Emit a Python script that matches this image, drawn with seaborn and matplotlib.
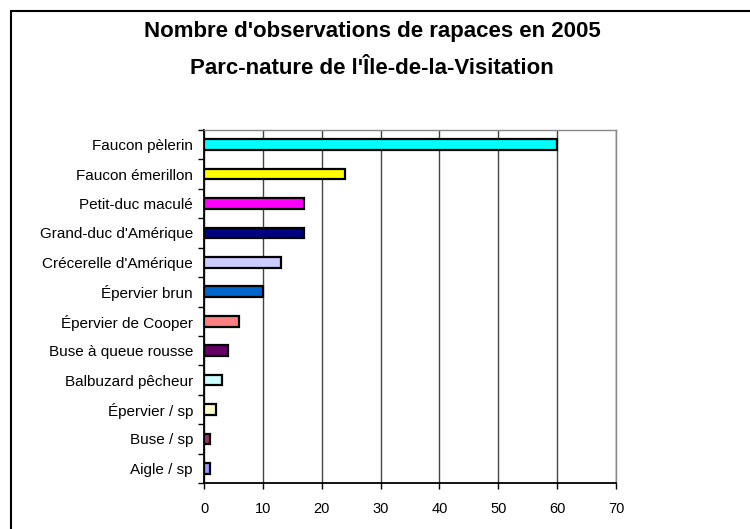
import matplotlib
matplotlib.use("Agg")
import matplotlib.pyplot as plt
from matplotlib.patches import Rectangle
from matplotlib.ticker import FixedLocator
import seaborn as sns
import pandas as pd

categories = ["Faucon pèlerin", "Faucon émerillon", "Petit-duc maculé", "Grand-duc d'Amérique",
              "Crécerelle d'Amérique", "Épervier brun", "Épervier de Cooper", "Buse à queue rousse",
              "Balbuzard pêcheur", "Épervier / sp", "Buse / sp", "Aigle / sp"]
values = [60, 24, 17, 17, 13, 10, 6, 4, 3, 2, 1, 1]
colors = ["#00FFFF", "#FFFF00", "#FF00FF", "#000080", "#CCCCFF", "#0066CC",
          "#FF8080", "#660066", "#CCFFFF", "#FFFFCC", "#993366", "#9999FF"]
xticks = [0, 10, 20, 30, 40, 50, 60, 70]
title = "Nombre d'observations de rapaces en 2005\nParc-nature de l'Île-de-la-Visitation"

df = pd.DataFrame({"cat": categories, "val": values})

sns.set_style("white")
plt.rcParams["font.family"] = ["Liberation Sans", "DejaVu Sans"]
plt.rcParams["text.color"] = "black"
plt.rcParams["xtick.color"] = "black"
plt.rcParams["ytick.color"] = "black"
plt.rcParams["xtick.labelcolor"] = "black"
plt.rcParams["ytick.labelcolor"] = "black"

fig = plt.figure(figsize=(7.5, 5.29), dpi=100)
ax = fig.add_axes([204/750, 1 - 483/529, (616 - 204)/750, (483 - 130)/529])

sns.barplot(data=df, x="val", y="cat", hue="cat", palette=colors, legend=False,
            orient="h", width=0.36, saturation=1, edgecolor="black", linewidth=1.6,
            ax=ax, zorder=3)

ax.set_xlim(0, 70)
ax.set_ylim(11.5, -0.5)
ax.set_xticks(xticks)
ax.set_xticklabels([str(t) for t in xticks], fontsize=10.5)
ax.set_xlabel("")
ax.set_ylabel("")
ax.tick_params(axis="y", which="major", length=0, labelsize=11, pad=8)
ax.yaxis.set_minor_locator(FixedLocator([i - 0.5 for i in range(13)]))
ax.tick_params(axis="y", which="minor", length=4, width=1, color="black", direction="out", left=True)
ax.tick_params(axis="x", which="major", length=4, width=1, color="black", direction="out",
               bottom=True, pad=10)
ax.grid(axis="x", color="#444444", linewidth=1.0, zorder=0)
ax.set_axisbelow(True)
for s in ["top", "right"]:
    ax.spines[s].set_color("#888888")
    ax.spines[s].set_linewidth(1.0)
for s in ["left", "bottom"]:
    ax.spines[s].set_color("black")
    ax.spines[s].set_linewidth(1.3)

fig.text(372/750, 1 - 50/529, title, ha="center", va="center", fontsize=16,
         fontweight="bold", linespacing=1.95)

fig.patches.append(Rectangle((11/750, -0.1), 1.2, 1 - 11/529 + 0.1, transform=fig.transFigure,
                             fill=False, edgecolor="black", linewidth=1.5))

fig.savefig("out.png", dpi=100)
